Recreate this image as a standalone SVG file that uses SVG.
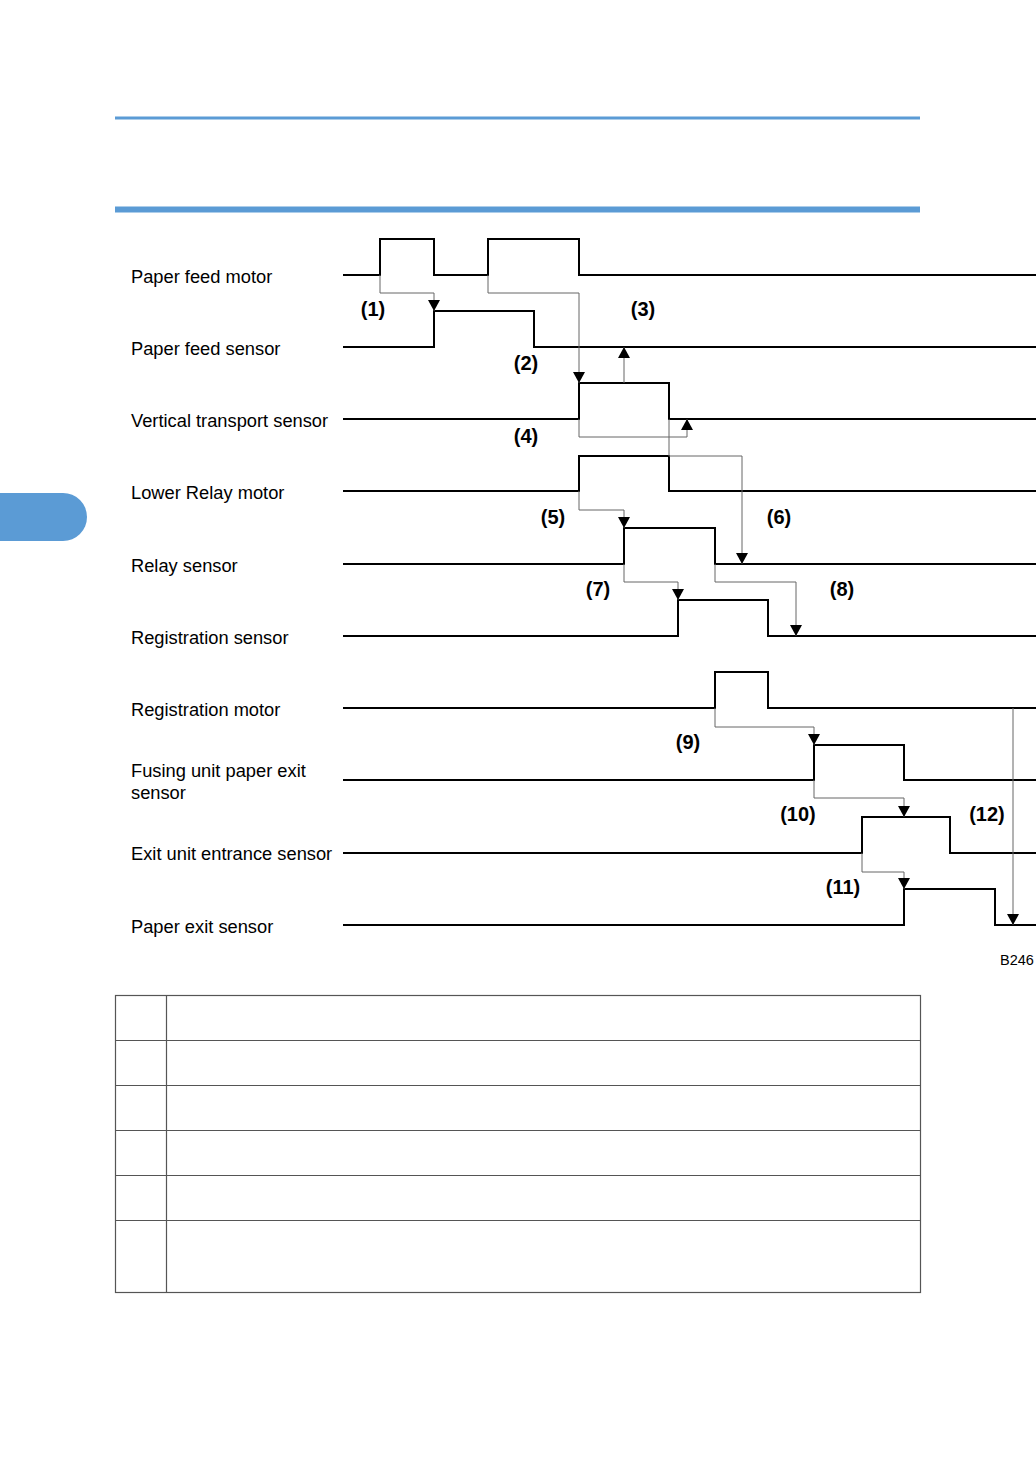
<svg xmlns="http://www.w3.org/2000/svg" width="1036" height="1470" viewBox="0 0 1036 1470">
<style>
.lbl{font-family:"Liberation Sans",Arial,sans-serif;font-size:18.3px;fill:#000}
.num{font-family:"Liberation Sans",Arial,sans-serif;font-size:20px;font-weight:bold;fill:#000;text-anchor:middle}
.sig{fill:none;stroke:#000;stroke-width:2}
.con{fill:none;stroke:#666;stroke-width:1}
.tbl{fill:none;stroke:#555;stroke-width:1.2}
</style>
<defs>
<marker id="ah" markerUnits="userSpaceOnUse" markerWidth="12" markerHeight="12" viewBox="0 0 12 12" refX="11" refY="6" orient="auto">
<path d="M0,0 L11,6 L0,12 Z" fill="#000"/>
</marker>
</defs>
<rect width="1036" height="1470" fill="#fff"/>
<rect x="115" y="116.5" width="805" height="3" fill="#5B9BD5"/>
<rect x="115" y="206.5" width="805" height="6" fill="#5B9BD5"/>
<path d="M0,493 H63 A24,24 0 0 1 63,541 H0 Z" fill="#5B9BD5"/>

<g id="labels">
<text class="lbl" x="131" y="283">Paper feed motor</text>
<text class="lbl" x="131" y="355">Paper feed sensor</text>
<text class="lbl" x="131" y="427">Vertical transport sensor</text>
<text class="lbl" x="131" y="499">Lower Relay motor</text>
<text class="lbl" x="131" y="572">Relay sensor</text>
<text class="lbl" x="131" y="644">Registration sensor</text>
<text class="lbl" x="131" y="716">Registration motor</text>
<text class="lbl" x="131" y="777">Fusing unit paper exit</text>
<text class="lbl" x="131" y="799">sensor</text>
<text class="lbl" x="131" y="860">Exit unit entrance sensor</text>
<text class="lbl" x="131" y="933">Paper exit sensor</text>
</g>

<g id="signals">
<path id="s-paper-feed-motor" class="sig" d="M343,275 H380 V239 H434 V275 H488 V239 H579 V275 H1036"/>
<path id="s-paper-feed-sensor" class="sig" d="M343,347 H434 V311 H534 V347 H1036"/>
<path id="s-vertical-transport" class="sig" d="M343,419 H579 V383 H669 V419 H1036"/>
<path id="s-lower-relay-motor" class="sig" d="M343,491 H579 V456 H669 V491 H1036"/>
<path id="s-relay-sensor" class="sig" d="M343,564 H624 V528 H715 V564 H1036"/>
<path id="s-registration-sensor" class="sig" d="M343,636 H678 V600 H768 V636 H1036"/>
<path id="s-registration-motor" class="sig" d="M343,708 H715 V672 H768 V708 H1036"/>
<path id="s-fusing-exit" class="sig" d="M343,780 H814 V745 H904 V780 H1036"/>
<path id="s-exit-entrance" class="sig" d="M343,853 H862 V817 H950 V853 H1036"/>
<path id="s-paper-exit" class="sig" d="M343,925 H904 V889 H995 V925 H1036"/>
</g>

<g id="connectors">
<path class="con" d="M380,275 V293 H434 V311" marker-end="url(#ah)"/>
<path class="con" d="M488,275 V293 H579 V383" marker-end="url(#ah)"/>
<path class="con" d="M624,383 V347" marker-end="url(#ah)"/>
<path class="con" d="M579,419 V437 H687 V419" marker-end="url(#ah)"/>
<path class="con" d="M669,419 V456 H742 V564" marker-end="url(#ah)"/>
<path class="con" d="M579,491 V510 H624 V528" marker-end="url(#ah)"/>
<path class="con" d="M624,564 V582 H678 V600" marker-end="url(#ah)"/>
<path class="con" d="M715,564 V582 H796 V636" marker-end="url(#ah)"/>
<path class="con" d="M715,708 V727 H814 V745" marker-end="url(#ah)"/>
<path class="con" d="M814,780 V798 H904 V817" marker-end="url(#ah)"/>
<path class="con" d="M862,853 V872 H904 V889" marker-end="url(#ah)"/>
<path class="con" d="M1013,708 V925" marker-end="url(#ah)"/>
</g>

<g id="numbers">
<text class="num" x="373" y="316">(1)</text>
<text class="num" x="526" y="370">(2)</text>
<text class="num" x="643" y="316">(3)</text>
<text class="num" x="526" y="443">(4)</text>
<text class="num" x="553" y="524">(5)</text>
<text class="num" x="779" y="524">(6)</text>
<text class="num" x="598" y="596">(7)</text>
<text class="num" x="842" y="596">(8)</text>
<text class="num" x="688" y="749">(9)</text>
<text class="num" x="798" y="821">(10)</text>
<text class="num" x="843" y="894">(11)</text>
<text class="num" x="987" y="821">(12)</text>
</g>

<text class="lbl" x="1000" y="965" style="font-size:14.5px">B246</text>

<g id="table">
<rect class="tbl" x="115.5" y="995.5" width="805" height="297"/>
<path class="tbl" d="M166.5,995.5 V1292.5 M115.5,1040.5 H920.5 M115.5,1085.5 H920.5 M115.5,1130.5 H920.5 M115.5,1175.5 H920.5 M115.5,1220.5 H920.5"/>
</g>
</svg>
